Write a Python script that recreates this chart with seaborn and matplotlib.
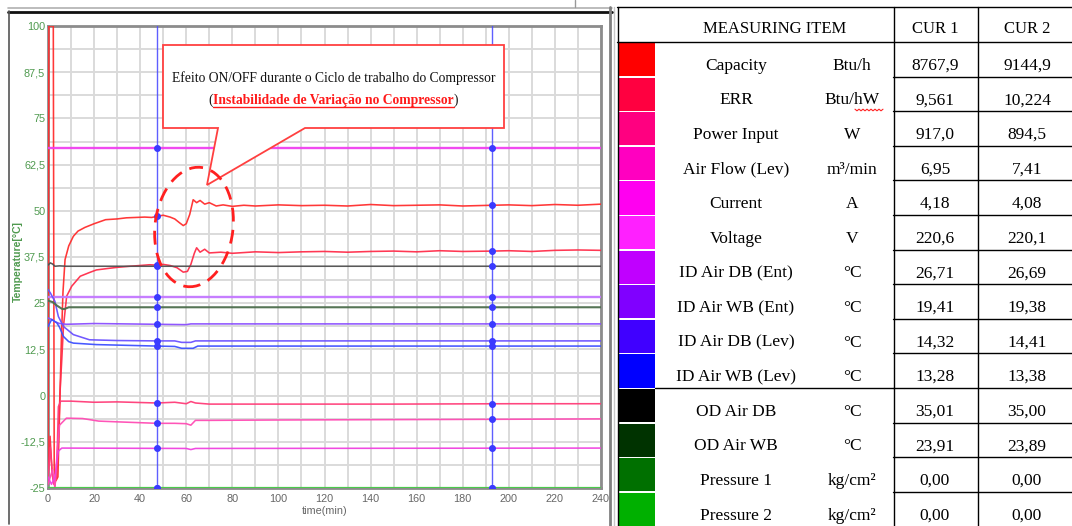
import numpy as np
import pandas as pd
import matplotlib
matplotlib.use("Agg")
import matplotlib.pyplot as plt
import seaborn as sns
from matplotlib.patches import Rectangle, Ellipse, Polygon
from matplotlib.lines import Line2D

# ------------------------------------------------------------------ data
items = ["Capacity", "ERR", "Power Input", "Air Flow (Lev)", "Current", "Voltage",
         "ID Air DB (Ent)", "ID Air WB (Ent)", "ID Air DB (Lev)", "ID Air WB (Lev)",
         "OD Air DB", "OD Air WB", "Pressure 1", "Pressure 2"]
units = ["Btu/h", "Btu/hW", "W", "m³/min", "A", "V", "°C", "°C", "°C", "°C",
         "°C", "°C", "kg/cm²", "kg/cm²"]
cur1 = ["8767,9", "9,561", "917,0", "6,95", "4,18", "220,6", "26,71", "19,41",
        "14,32", "13,28", "35,01", "23,91", "0,00", "0,00"]
cur2 = ["9144,9", "10,224", "894,5", "7,41", "4,08", "220,1", "26,69", "19,38",
        "14,41", "13,38", "35,00", "23,89", "0,00", "0,00"]
swatch_colors = ["#ff0000", "#ff0040", "#ff0080", "#ff00c0", "#ff00f0", "#ff20ff",
                 "#c000ff", "#8000ff", "#4000ff", "#0000ff", "#000000", "#003300",
                 "#007000", "#00b000"]
line_colors = {"Capacity": "#ff2d2d", "ERR": "#ff2d4a", "Power Input": "#ff3c78",
               "Air Flow (Lev)": "#ff4cb4", "Current": "#f040e0", "Voltage": "#f040f0",
               "ID Air DB (Ent)": "#c377ff", "ID Air WB (Ent)": "#8a4dff",
               "ID Air DB (Lev)": "#6a50ff", "ID Air WB (Lev)": "#3d50ff",
               "OD Air DB": "#505050", "OD Air WB": "#4d6e4d",
               "Pressure 1": "#3a9a3a", "Pressure 2": "#4ccc4c"}

t_capacity = [0, 0.4, 2.3, 2.7, 3.5, 4.3, 5.0, 5.8, 6.5, 7.4, 9, 11, 13, 16, 20, 25, 30, 34,
              38, 42, 45, 47.3, 50, 53, 55, 57, 58.7, 60, 61.5, 63, 64.5, 66, 68, 70, 73,
              76, 80, 85, 90, 100, 110, 120, 130, 140, 150, 160, 170, 180, 192.8, 200,
              210, 220, 230, 240]
v_capacity = [-24, 100, 100, -20, -23, -22, -5, 15, 28, 36.8, 40.5, 43.1, 44.5, 45.5, 46.5,
              47.6, 47.8, 48.1, 48.2, 48.3, 48.2, 48.5, 48.8, 48.3, 47.8, 46.8, 46.0, 46.5,
              49, 53, 52.2, 52.8, 51.8, 52.2, 51.3, 51.6, 51.2, 51.5, 51.3, 51.6, 51.4,
              51.5, 51.3, 51.7, 51.4, 51.5, 51.6, 51.3, 51.5, 51.6, 51.4, 51.7, 51.5, 51.8]

t_err = [0, 0.9, 1.8, 2.6, 3.8, 4.5, 5.2, 6, 6.7, 8.1, 10.3, 14, 18, 21, 26, 30, 35.6, 40,
         44, 47.3, 50, 53, 56, 58.7, 60.5, 62, 63.5, 64.5, 66, 68, 70, 75, 80, 90, 100,
         110, 120, 130, 140, 150, 160, 170, 180, 192.8, 200, 210, 220, 230, 240]
v_err = [-22, -11, -21, -24, -22, -12, 0.7, 10, 18.7, 26.9, 29.6, 32.3, 33.3, 34, 34.4,
         34.7, 35.0, 35.2, 35.4, 35.3, 35.5, 35.2, 34.6, 33.4, 33.6, 35.5, 38.5, 40.0,
         38.8, 39.6, 38.6, 38.8, 38.5, 38.9, 38.7, 38.9, 39.0, 38.8, 39.0, 39.1, 38.9,
         39.2, 39.0, 39.1, 39.2, 39.0, 39.3, 39.4, 39.3]

t_power = [0, 1, 2, 3, 3.8, 4.5, 5.5, 10, 20, 30, 47.3, 55, 60, 62, 64, 70, 100, 150, 200, 240]
v_power = [-23, -14, -22, -24.5, -20, -3, -1.5, -1.5, -1.8, -1.7, -2.0, -1.8, -2.2, -1.6,
           -2.0, -2.3, -2.3, -2.3, -2.2, -2.2]

t_airflow = [0, 2, 3, 4, 5, 8, 15, 22, 30, 47.3, 55, 60, 62, 64, 70, 100, 150, 200, 240]
v_airflow = [-24, -20, -25, -15, -8, -6.1, -6.2, -6.9, -7.1, -7.5, -7.5, -7.6, -8.0, -6.7,
             -6.7, -6.6, -6.5, -6.4, -6.3]

t_current = [0, 1.5, 3, 4, 4.5, 6, 60, 62, 64, 240]
v_current = [-22, -24, -22, -17, -15, -14.2, -14.3, -14.6, -14.3, -14.2]

t_voltage = [0, 240]
v_voltage = [67.0, 67.0]

t_db_ent = [0, 240]
v_db_ent = [26.7, 26.7]

t_wb_ent = [0, 2, 3, 5, 8, 20, 60, 62, 240]
v_wb_ent = [21.0, 20.5, 20.0, 19.5, 19.3, 19.5, 19.2, 19.4, 19.4]

t_db_lev = [0, 1, 3, 4.5, 6.7, 11, 18, 30, 47.3, 55, 58, 62, 64, 240]
v_db_lev = [28.7, 27.8, 25.5, 21.4, 18.7, 16.5, 15.1, 14.9, 14.8, 14.8, 14.4, 14.4, 14.8, 14.8]

t_wb_lev = [0, 1.6, 3.8, 5, 6.7, 9, 11, 21, 47.3, 55, 58, 63, 65, 240]
v_wb_lev = [18.7, 20.6, 19.7, 18.5, 16.0, 14.6, 14.2, 13.8, 13.4, 13.3, 12.8, 12.8, 13.4, 13.4]

t_od_db = [0, 1, 2, 3, 5, 8, 240]
v_od_db = [35.3, 35.9, 35.6, 35.0, 35.1, 35.0, 35.0]

t_od_wb = [0, 2, 4, 6, 7, 9, 240]
v_od_wb = [25.7, 25.3, 24.3, 23.5, 23.4, 23.9, 23.9]

t_press1 = [0, 240]
v_press1 = [-25, -25]
t_press2 = [0, 240]
v_press2 = [-25, -25]

series_t = [t_capacity, t_err, t_power, t_airflow, t_current, t_voltage, t_db_ent,
            t_wb_ent, t_db_lev, t_wb_lev, t_od_db, t_od_wb, t_press1, t_press2]
series_v = [v_capacity, v_err, v_power, v_airflow, v_current, v_voltage, v_db_ent,
            v_wb_ent, v_db_lev, v_wb_lev, v_od_db, v_od_wb, v_press1, v_press2]

cursor_times = [47.3, 192.8]
x_ticks = list(range(0, 241, 20))
y_ticks = [-25, -12.5, 0, 12.5, 25, 37.5, 50, 62.5, 75, 87.5, 100]
y_tick_labels = ["-25", "-12,5", "0", "12,5", "25", "37,5", "50", "62,5", "75", "87,5", "100"]

note_line1 = "Efeito ON/OFF durante o Ciclo de trabalho do Compressor"
note_line2 = "Instabilidade de Variação no Compressor"

# ------------------------------------------------------------------ figure
sns.set_theme(style="white")
plt.rcParams["font.family"] = ["Liberation Sans", "DejaVu Sans"]

W, H = 1072, 526
fig = plt.figure(figsize=(W / 100, H / 100), dpi=100, facecolor="white")


def fx(x):
    return x / W


def fy(y):
    return 1 - y / H


def fline(xs, ys, **kw):
    fig.add_artist(Line2D([fx(x) for x in xs], [fy(y) for y in ys],
                          transform=fig.transFigure, **kw))


# left panel frame
fline([8, 612], [7.5, 7.5], color="#b0b0b0", lw=1.2)
fline([8, 612], [11.5, 11.5], color="#111111", lw=2.0)
fline([575, 575], [0, 7], color="#999999", lw=1.0)
fline([8.5, 8.5], [11, 524], color="#555555", lw=1.2)
fline([610, 610], [7, 526], color="#808080", lw=2.0)
fline([613.5, 613.5], [7, 526], color="#c8c8c8", lw=1.0)

# ------------------------------------------------------------------ chart
ax = fig.add_axes([fx(48), fy(488), (601 - 48) / W, (488 - 26) / H])
ax.set_facecolor("white")

df = pd.concat([pd.DataFrame({"time": t, "temp": v, "item": name})
                for name, t, v in zip(items, series_t, series_v)], ignore_index=True)

lw_map = {"Voltage": 1.7, "ID Air DB (Ent)": 1.7, "OD Air WB": 1.5, "Pressure 2": 1.6,
          "Pressure 1": 1.4}
for name in items:
    sub = df[df["item"] == name]
    sns.lineplot(data=sub, x="time", y="temp", color=line_colors[name],
                 lw=lw_map.get(name, 1.15), estimator=None, sort=False, ax=ax,
                 legend=False, zorder=3, alpha=0.95)

ax.set_xlim(0, 240)
ax.set_ylim(-25, 100)
ax.set_xticks(x_ticks)
ax.set_xticks(range(10, 240, 20), minor=True)
ax.set_yticks(y_ticks)
ax.set_yticklabels(y_tick_labels)
ax.set_yticks(np.array(y_ticks[:-1]) + 6.25, minor=True)
ax.grid(True, which="both", color="#dadada", lw=1.4, zorder=0)
ax.set_axisbelow(True)
ax.tick_params(axis="both", which="both", length=0)
ax.tick_params(axis="y", colors="#4f9a4f", labelsize=7.8, pad=2.0)
ax.tick_params(axis="x", colors="#666666", labelsize=7.8, pad=4)
for sp in ax.spines.values():
    sp.set_color("#8c8c8c")
    sp.set_linewidth(2.0)
ax.set_xlabel("time(min)", color="#666666", fontsize=7.8, labelpad=2)
ax.set_ylabel("")
fig.text(fx(18), fy(262), "Temperature[°C]", rotation=90, ha="center", va="center",
         color="#4f9a4f", fontsize=7.5, fontweight="bold")

# cursors with points
for ct in cursor_times:
    ax.axvline(ct, color="#4d4dff", lw=1.0, zorder=4, alpha=0.9)
    yv = [np.interp(ct, t, v) for t, v in zip(series_t, series_v)]
    ax.plot([ct] * len(yv), yv, "o", color="#3a3aff", ms=4, zorder=5)

# ------------------------------------------------------------------ callout
outline = [(163, 45), (504, 45), (504, 128), (305, 128), (207, 185), (218, 128), (163, 128)]
fig.add_artist(Polygon([(fx(x), fy(y)) for x, y in outline], closed=True,
                       transform=fig.transFigure, facecolor="white",
                       edgecolor="#ff4040", lw=1.3, zorder=6))

serif = ["Liberation Serif", "DejaVu Serif"]
fig.text(fx(333.5), fy(82), note_line1, ha="center", va="baseline", family=serif,
         fontsize=9.8, color="#111111", zorder=7)

renderer = fig.canvas.get_renderer()
parts = [("(", "#111111", "normal"), (note_line2, "#ff1a1a", "bold"), (")", "#111111", "normal")]
ptexts = []
for s, c, w in parts:
    ptexts.append(fig.text(0, 0, s, color=c, fontweight=w, family=serif, fontsize=9.8,
                           ha="left", va="baseline", zorder=7))
widths = [t.get_window_extent(renderer).width for t in ptexts]
xcur = 333.5 - sum(widths) / 2
base_y = 104
spans = []
for t, wdt in zip(ptexts, widths):
    t.set_position((fx(xcur), fy(base_y)))
    spans.append((xcur, xcur + wdt))
    xcur += wdt
fline([spans[1][0], spans[1][1]], [base_y + 2.5, base_y + 2.5], color="#ff1a1a", lw=1.0,
      zorder=7)

# dashed ellipse (in inch coordinates so it stays round and can be tilted)
fig.add_artist(Ellipse((194 / 100, (H - 227) / 100), 78 / 100, 120 / 100, angle=-7,
                       transform=fig.dpi_scale_trans, fill=False, edgecolor="#ff2020",
                       lw=2.0, linestyle=(0, (5, 3)), zorder=6))

# ------------------------------------------------------------------ table
x_left, x_sw, x_c1, x_c2, x_right = 617, 655, 893, 977, 1072
y_top, y_head = 7, 42
row_h = 34.6
fs = 12.5

fline([x_left, x_right], [y_top, y_top], color="black", lw=1.0)
fline([x_left, x_right], [y_head, y_head], color="black", lw=1.0)
for xv in (x_left, x_c1, x_c2):
    fline([xv + 0.5, xv + 0.5], [y_top, H], color="black", lw=1.0)

fig.text(fx(775), fy(33), "MEASURING ITEM", ha="center", va="baseline", family=serif,
         fontsize=fs * 0.96, color="black")
fig.text(fx(935), fy(33), "CUR 1", ha="center", va="baseline", family=serif,
         fontsize=fs * 0.96, color="black")
fig.text(fx(1027), fy(33), "CUR 2", ha="center", va="baseline", family=serif,
         fontsize=fs * 0.96, color="black")

for i, (name, unit, a, b, col) in enumerate(zip(items, units, cur1, cur2, swatch_colors)):
    top = y_head + i * row_h
    bot = top + row_h
    fig.add_artist(Rectangle((fx(x_left + 1), fy(bot - 0.5)), (x_sw - x_left - 1) / W,
                             (row_h - 1.5) / H, transform=fig.transFigure,
                             facecolor=col, edgecolor="none"))
    yb = top + 0.83 * row_h - 1
    fig.text(fx(736), fy(yb), name, ha="center", va="baseline", family=serif,
             fontsize=fs, color="black")
    fig.text(fx(852), fy(yb), unit, ha="center", va="baseline", family=serif,
             fontsize=fs, color="black")
    fig.text(fx(935), fy(yb), a, ha="center", va="baseline", family=serif,
             fontsize=fs, color="black")
    fig.text(fx(1027), fy(yb), b, ha="center", va="baseline", family=serif,
             fontsize=fs, color="black")
    if i < len(items) - 1:
        fline([x_c1, x_right], [bot, bot], color="black", lw=1.0)
    if i == 9:
        fline([x_sw, x_c1], [bot, bot], color="black", lw=1.0)

# spell-check squiggle under "hW"
zx = np.arange(855, 884, 2.0)
zy = 110 + np.where(np.arange(len(zx)) % 2 == 0, -0.8, 0.8)
fline(zx, zy, color="#ff2020", lw=0.8)

fig.savefig("out.png", dpi=100, facecolor="white")
